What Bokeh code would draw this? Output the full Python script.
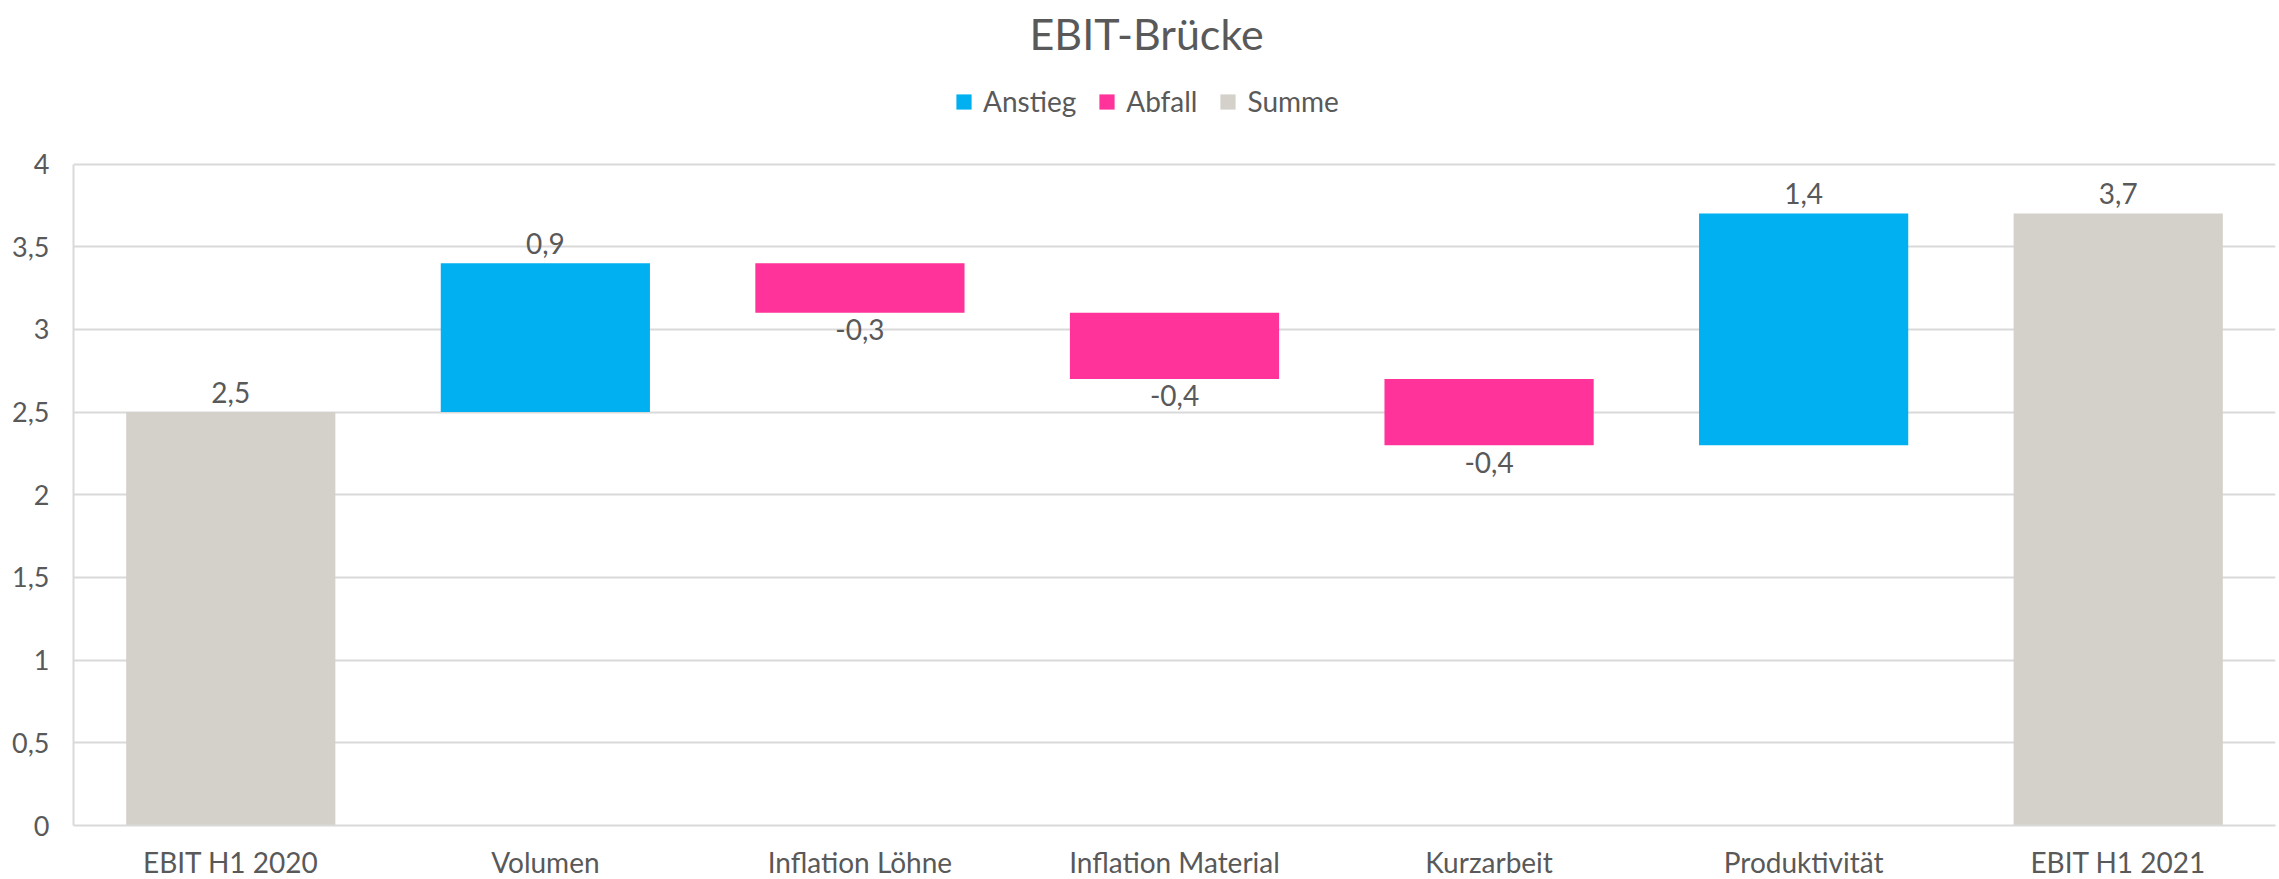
from bokeh.plotting import figure
from bokeh.models import ColumnDataSource, Range1d, Legend, LegendItem, Title, FixedTicker
from bokeh.core.properties import value
from bokeh.embed import file_html
from bokeh.resources import INLINE

# ---- data ----
categories = ["EBIT H1 2020", "Volumen", "Inflation Löhne", "Inflation Material",
              "Kurzarbeit", "Produktivität", "EBIT H1 2021"]
changes = [2.5, 0.9, -0.3, -0.4, -0.4, 1.4, 3.7]
kinds = ["Summe", "Anstieg", "Abfall", "Abfall", "Abfall", "Anstieg", "Summe"]
legend_names = ["Anstieg", "Abfall", "Summe"]
colors = {"Anstieg": "#00B0F0", "Abfall": "#FF3399", "Summe": "#D4D1CA"}
y_ticks = [0, 0.5, 1, 1.5, 2, 2.5, 3, 3.5, 4]
y_tick_labels = ["0", "0,5", "1", "1,5", "2", "2,5", "3", "3,5", "4"]

# ---- waterfall computation ----
bottoms, tops = [], []
running = 0.0
for v, k in zip(changes, kinds):
    if k == "Summe":
        bottoms.append(0.0)
        tops.append(v)
        running = v
    else:
        nxt = running + v
        bottoms.append(min(running, nxt))
        tops.append(max(running, nxt))
        running = nxt

FONT = "Lato"
TXT = "#595959"
GRID = "#D9D9D9"

# layout (pixels)
TITLE_PANEL = 63
FRAME_BOTTOM = 825
PX_PER_UNIT = 661.5 / 4
FRAME_H = FRAME_BOTTOM - TITLE_PANEL
Y_MAX = FRAME_H / PX_PER_UNIT

p = figure(x_range=categories, y_range=Range1d(0, Y_MAX),
           frame_width=2202, frame_height=FRAME_H,
           output_backend="svg", toolbar_location=None, title=None,
           min_border_left=73, min_border_right=4, min_border_top=0, min_border_bottom=54)
p.outline_line_color = None
p.background_fill_color = "white"
p.border_fill_color = "white"

renderers = {}
for name in legend_names:
    idx = [i for i, k in enumerate(kinds) if k == name]
    src = ColumnDataSource(dict(x=[categories[i] for i in idx],
                                top=[tops[i] for i in idx],
                                bottom=[bottoms[i] for i in idx]))
    renderers[name] = p.vbar(x="x", top="top", bottom="bottom", width=0.665, source=src,
                             fill_color=colors[name], line_color=None)

# data labels
pos_x, pos_y, pos_t, neg_x, neg_y, neg_t = [], [], [], [], [], []
for c, v, b, t in zip(categories, changes, bottoms, tops):
    lab = f"{v:.1f}".replace(".", ",")
    if v >= 0:
        pos_x.append(c); pos_y.append(t); pos_t.append(lab)
    else:
        neg_x.append(c); neg_y.append(b); neg_t.append(lab)
p.text(x=pos_x, y=pos_y, text=pos_t, text_align="center", text_baseline="alphabetic",
       y_offset=-20, text_font=value(FONT), text_font_size="28px", text_color=TXT)
p.text(x=neg_x, y=neg_y, text=neg_t, text_align="center", text_baseline="alphabetic",
       y_offset=17, text_font=value(FONT), text_font_size="28px", text_color=TXT)

# axes
for ax in (p.xaxis[0], p.yaxis[0]):
    ax.axis_line_color = GRID
    ax.axis_line_width = 2
    ax.major_tick_line_color = None
    ax.minor_tick_line_color = None
    ax.major_label_text_font = FONT
    ax.major_label_text_color = TXT
p.xaxis.major_label_text_font_size = "28px"
p.yaxis.major_label_text_font_size = "27px"
p.xaxis.major_label_standoff = 13
p.yaxis.major_label_standoff = 18
p.yaxis.bounds = (y_ticks[0], y_ticks[-1])
p.yaxis.ticker = FixedTicker(ticks=y_ticks)
p.yaxis.major_label_overrides = {t: l for t, l in zip(y_ticks, y_tick_labels)}
p.xgrid.grid_line_color = None
p.ygrid.grid_line_color = GRID
p.ygrid.grid_line_width = 2
p.ygrid.ticker = FixedTicker(ticks=y_ticks)

legend = Legend(items=[LegendItem(label=n, renderers=[renderers[n]]) for n in legend_names],
                orientation="horizontal", location=(881, 707),
                glyph_width=19, glyph_height=19, label_standoff=10, spacing=21,
                padding=0, margin=0, border_line_color=None, background_fill_alpha=0,
                label_text_font=FONT, label_text_font_size="28px", label_text_color=TXT)
p.add_layout(legend, "center")
p.add_layout(Title(text="EBIT-Brücke", align="left", offset=956, text_font=FONT,
                   text_font_size="43px", text_font_style="normal", text_color=TXT), "above")

open("out.html", "w").write(file_html(p, INLINE))
